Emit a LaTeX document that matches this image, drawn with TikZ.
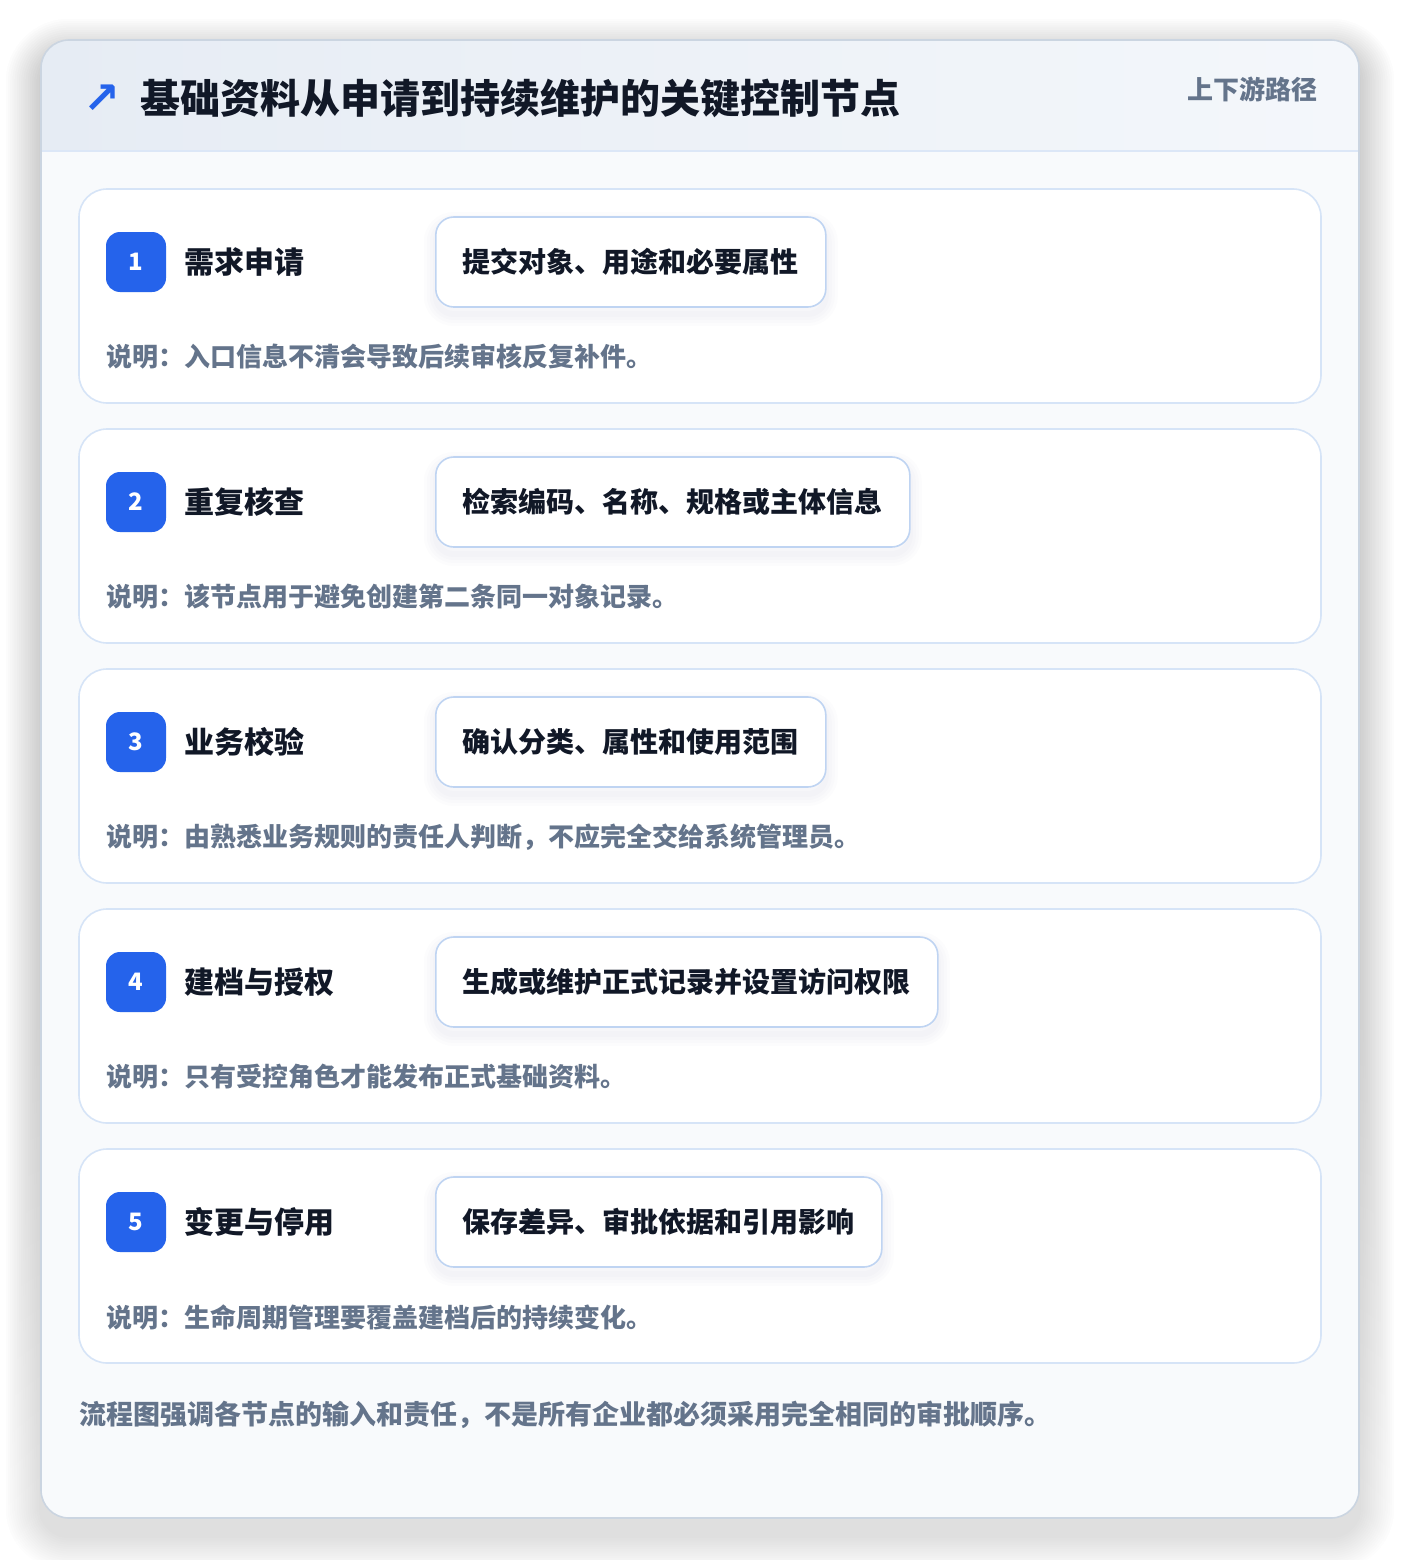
\documentclass[tikz,border=0pt]{standalone}
\usepackage{fontspec}
\setmainfont{Noto Sans CJK SC}
\newfontfamily\symfont{DejaVu Sans}
\usepackage{tikz}
\usetikzlibrary{positioning}
\definecolor{pagebg}{HTML}{FFFFFF}
\definecolor{cardbg}{HTML}{F8FAFC}
\definecolor{cardline}{HTML}{CBD5E1}
\definecolor{headl}{HTML}{E6ECF4}
\definecolor{headr}{HTML}{F4F7FB}
\definecolor{headline}{HTML}{DCE7F7}
\definecolor{stepline}{HTML}{D6E4F7}
\definecolor{boxline}{HTML}{BFD4F2}
\definecolor{badgeblue}{HTML}{2563EB}
\definecolor{inkdark}{HTML}{111827}
\definecolor{inkgray}{HTML}{64748B}
\definecolor{shade}{HTML}{334155}
\tikzset{
    halo/.style={preaction={draw=shade, draw opacity=0.012, line width=#1, transform canvas={yshift=-7pt}}},
    stepcard/.style={fill=white, draw=stepline, line width=1.6pt, rounded corners=28pt},
    badge/.style={fill=badgeblue, rounded corners=14pt, minimum width=60pt, minimum height=60pt,
        inner sep=0pt, text=white, font=\fontsize{24}{24}\selectfont\bfseries},
    steptitle/.style={anchor=west, inner sep=0pt, text=inkdark, font=\fontsize{30}{32}\selectfont\bfseries},
    detailbox/.style={fill=white, draw=boxline, line width=1.6pt, rounded corners=18pt, anchor=west,
        minimum height=90pt, inner xsep=27pt, inner ysep=0pt, text=inkdark,
        font=\fontsize{28}{30}\selectfont\bfseries,
        halo=24pt, halo=18pt, halo=12pt, halo=6pt},
    notetext/.style={anchor=west, inner sep=0pt, text=inkgray, font=\fontsize{26}{28}\selectfont\bfseries},
}

\begin{document}
\begin{tikzpicture}[x=1pt, y=-1pt]
    \useasboundingbox[fill=pagebg] (0, 0) rectangle (1400, 1560);
    % outer card, soft shadow first
    \foreach \k in {1,...,16}
        \fill[shade, opacity=0.006, rounded corners=28pt+2.2*\k]
            (41 - 2.2*\k, 54 - 2.2*\k) rectangle (1359 + 2.2*\k, 1536 + 2.2*\k);
    \fill[cardbg, rounded corners=28pt] (41, 40) rectangle (1359, 1518);
    \begin{scope}
        \clip (0, 0) rectangle (1400, 151);
        \fill[left color=headl, right color=headr, rounded corners=28pt] (41, 40) rectangle (1359, 400);
    \end{scope}
    \draw[headline, line width=1.6pt] (41, 151) -- (1359, 151);
    \draw[cardline, line width=1.6pt, rounded corners=28pt] (41, 40) rectangle (1359, 1518);

    \node[anchor=center, inner sep=0pt, text=badgeblue, font=\symfont\fontsize{44}{44}\selectfont\bfseries]
        (icon) at (102, 99) {↗};
    \node[anchor=west, inner sep=0pt, text=inkdark, font=\fontsize{40}{44}\selectfont\bfseries]
        (title) at (140, 98) {基础资料从申请到持续维护的关键控制节点};
    \node[anchor=east, inner sep=0pt, text=inkgray, font=\fontsize{26}{28}\selectfont\bfseries]
        (path) at (1318, 89) {上下游路径};

    % steps
    \foreach \i/\name/\detail/\note in {
        1/需求申请/提交对象、用途和必要属性/说明：入口信息不清会导致后续审核反复补件。,
        2/重复核查/检索编码、名称、规格或主体信息/说明：该节点用于避免创建第二条同一对象记录。,
        3/业务校验/确认分类、属性和使用范围/说明：由熟悉业务规则的责任人判断，不应完全交给系统管理员。,
        4/建档与授权/生成或维护正式记录并设置访问权限/说明：只有受控角色才能发布正式基础资料。,
        5/变更与停用/保存差异、审批依据和引用影响/说明：生命周期管理要覆盖建档后的持续变化。} {
        \pgfmathsetmacro{\top}{189 + 240*(\i - 1)}
        \draw[stepcard] (79, \top) rectangle (1321, \top + 214);
        \node[badge] (badge\i) at (136, \top + 73) {\i};
        \node[steptitle, right=18pt of badge\i] (name\i) {\name};
        \node[detailbox] (detail\i) at (435, \top + 73) {\detail};
        \node[notetext] (note\i) at (106, \top + 168) {\note};
    }

    \node[anchor=west, inner sep=0pt, text=inkgray, font=\fontsize{27}{30}\selectfont\bfseries]
        (footer) at (79, 1415) {流程图强调各节点的输入和责任，不是所有企业都必须采用完全相同的审批顺序。};
\end{tikzpicture}
\end{document}
